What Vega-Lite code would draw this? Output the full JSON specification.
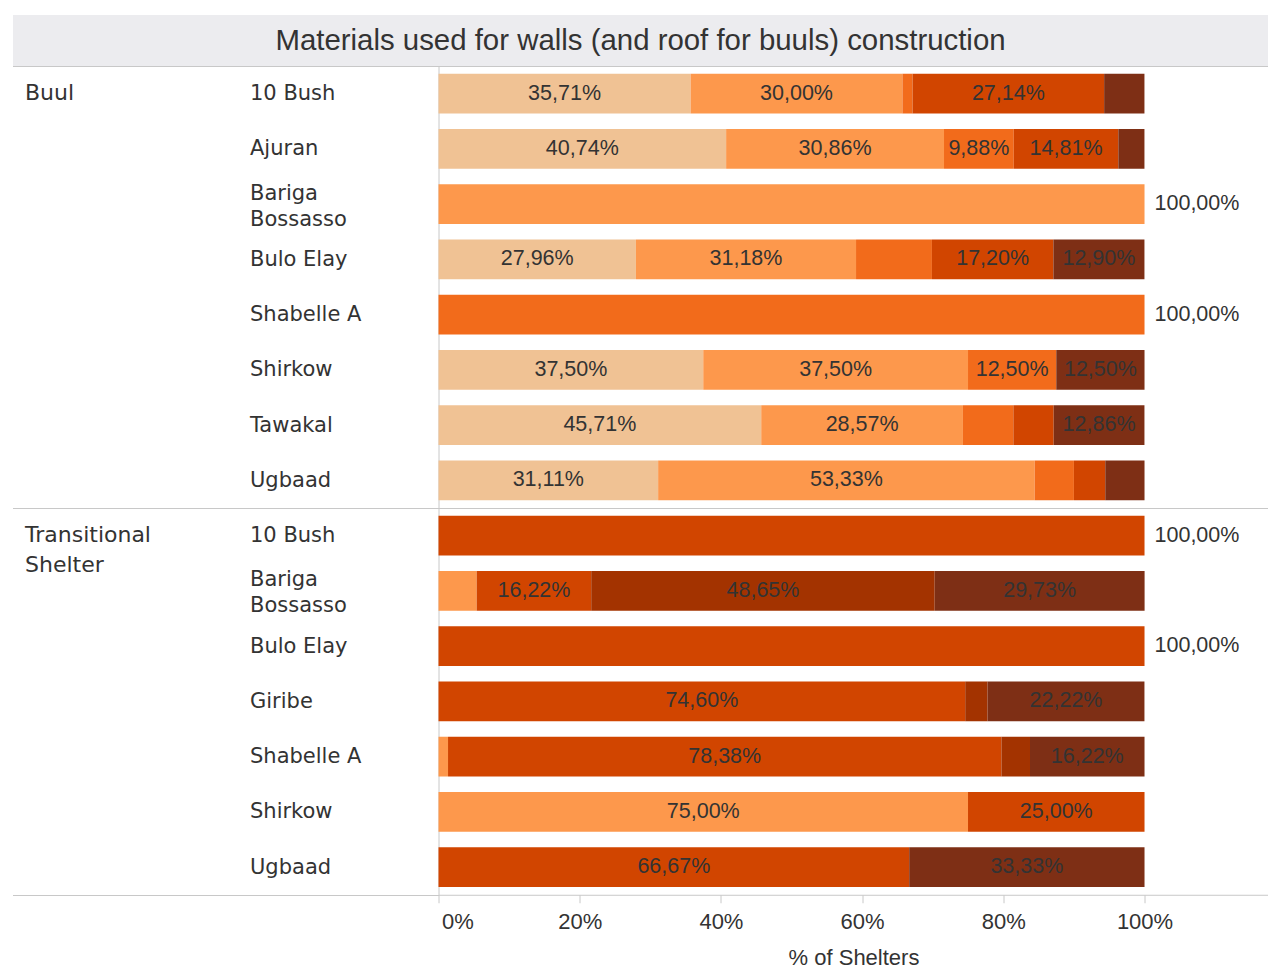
{
  "$schema": "https://vega.github.io/schema/vega-lite/v6.json",
  "padding": {"left": -13.5, "top": 14, "right": 0, "bottom": 0},
  "background": "white",
  "config": {
    "locale": {"number": {"decimal": ",", "thousands": ".", "grouping": [3], "currency": ["", " €"]}},
    "view": {"stroke": "#c8c8c8", "strokeWidth": 1}
  },
  "datasets": {
    "titles": [{"title": "Materials used for walls (and roof for buuls) construction"}],
    "shelters": [
      {"group": "Buul", "camp": "10 Bush", "material": "Material 1", "pct": 0.3571},
      {"group": "Buul", "camp": "10 Bush", "material": "Material 2", "pct": 0.3000},
      {"group": "Buul", "camp": "10 Bush", "material": "Material 3", "pct": 0.0143},
      {"group": "Buul", "camp": "10 Bush", "material": "Material 4", "pct": 0.2714},
      {"group": "Buul", "camp": "10 Bush", "material": "Material 6", "pct": 0.0571},
      {"group": "Buul", "camp": "Ajuran", "material": "Material 1", "pct": 0.4074},
      {"group": "Buul", "camp": "Ajuran", "material": "Material 2", "pct": 0.3086},
      {"group": "Buul", "camp": "Ajuran", "material": "Material 3", "pct": 0.0988},
      {"group": "Buul", "camp": "Ajuran", "material": "Material 4", "pct": 0.1481},
      {"group": "Buul", "camp": "Ajuran", "material": "Material 6", "pct": 0.0370},
      {"group": "Buul", "camp": "Bariga Bossasso", "material": "Material 2", "pct": 1.0},
      {"group": "Buul", "camp": "Bulo Elay", "material": "Material 1", "pct": 0.2796},
      {"group": "Buul", "camp": "Bulo Elay", "material": "Material 2", "pct": 0.3118},
      {"group": "Buul", "camp": "Bulo Elay", "material": "Material 3", "pct": 0.1075},
      {"group": "Buul", "camp": "Bulo Elay", "material": "Material 4", "pct": 0.1720},
      {"group": "Buul", "camp": "Bulo Elay", "material": "Material 6", "pct": 0.1290},
      {"group": "Buul", "camp": "Shabelle A", "material": "Material 3", "pct": 1.0},
      {"group": "Buul", "camp": "Shirkow", "material": "Material 1", "pct": 0.375},
      {"group": "Buul", "camp": "Shirkow", "material": "Material 2", "pct": 0.375},
      {"group": "Buul", "camp": "Shirkow", "material": "Material 3", "pct": 0.125},
      {"group": "Buul", "camp": "Shirkow", "material": "Material 6", "pct": 0.125},
      {"group": "Buul", "camp": "Tawakal", "material": "Material 1", "pct": 0.4571},
      {"group": "Buul", "camp": "Tawakal", "material": "Material 2", "pct": 0.2857},
      {"group": "Buul", "camp": "Tawakal", "material": "Material 3", "pct": 0.0714},
      {"group": "Buul", "camp": "Tawakal", "material": "Material 4", "pct": 0.0571},
      {"group": "Buul", "camp": "Tawakal", "material": "Material 6", "pct": 0.1286},
      {"group": "Buul", "camp": "Ugbaad", "material": "Material 1", "pct": 0.3111},
      {"group": "Buul", "camp": "Ugbaad", "material": "Material 2", "pct": 0.5333},
      {"group": "Buul", "camp": "Ugbaad", "material": "Material 3", "pct": 0.0556},
      {"group": "Buul", "camp": "Ugbaad", "material": "Material 4", "pct": 0.0444},
      {"group": "Buul", "camp": "Ugbaad", "material": "Material 6", "pct": 0.0556},
      {"group": "Transitional Shelter", "camp": "10 Bush", "material": "Material 4", "pct": 1.0},
      {"group": "Transitional Shelter", "camp": "Bariga Bossasso", "material": "Material 2", "pct": 0.0541},
      {"group": "Transitional Shelter", "camp": "Bariga Bossasso", "material": "Material 4", "pct": 0.1622},
      {"group": "Transitional Shelter", "camp": "Bariga Bossasso", "material": "Material 5", "pct": 0.4865},
      {"group": "Transitional Shelter", "camp": "Bariga Bossasso", "material": "Material 6", "pct": 0.2973},
      {"group": "Transitional Shelter", "camp": "Bulo Elay", "material": "Material 4", "pct": 1.0},
      {"group": "Transitional Shelter", "camp": "Giribe", "material": "Material 4", "pct": 0.7460},
      {"group": "Transitional Shelter", "camp": "Giribe", "material": "Material 5", "pct": 0.0317},
      {"group": "Transitional Shelter", "camp": "Giribe", "material": "Material 6", "pct": 0.2222},
      {"group": "Transitional Shelter", "camp": "Shabelle A", "material": "Material 2", "pct": 0.0135},
      {"group": "Transitional Shelter", "camp": "Shabelle A", "material": "Material 4", "pct": 0.7838},
      {"group": "Transitional Shelter", "camp": "Shabelle A", "material": "Material 5", "pct": 0.0405},
      {"group": "Transitional Shelter", "camp": "Shabelle A", "material": "Material 6", "pct": 0.1622},
      {"group": "Transitional Shelter", "camp": "Shirkow", "material": "Material 2", "pct": 0.75},
      {"group": "Transitional Shelter", "camp": "Shirkow", "material": "Material 4", "pct": 0.25},
      {"group": "Transitional Shelter", "camp": "Ugbaad", "material": "Material 4", "pct": 0.6667},
      {"group": "Transitional Shelter", "camp": "Ugbaad", "material": "Material 6", "pct": 0.3333}
    ]
  },
  "vconcat": [
    {
      "width": 830,
      "height": 51,
      "view": {"fill": "#ececef", "stroke": null},
      "data": {"name": "titles"},
      "mark": {"type": "text", "font": "Liberation Sans", "fontSize": 29.4, "color": "#333333", "align": "center", "baseline": "middle", "dx": -213},
      "encoding": {
        "y": {"field": "title", "type": "nominal", "scale": {"paddingInner": 0, "paddingOuter": 0},
          "axis": {"title": null, "labels": false, "domain": false, "grid": false, "ticks": true, "tickBand": "center",
                   "tickSize": 426, "tickWidth": 51, "tickColor": "#ececef", "tickCap": "butt"}},
        "text": {"field": "title", "type": "nominal"}
      }
    },
    {
      "width": 830,
      "height": {"step": 55.25},
      "data": {"name": "shelters"},
      "transform": [
        {"filter": "datum.group == 'Buul'"},
        {"stack": "pct", "groupby": ["camp"], "sort": [{"field": "material", "order": "ascending"}], "as": ["x0", "x1"]},
        {"calculate": "(datum.x0 + datum.x1) / 2", "as": "xm"}
      ],
      "encoding": {
        "y": {
          "field": "camp", "type": "nominal", "sort": "ascending",
          "scale": {"paddingInner": 0, "paddingOuter": 0},
          "axis": {
            "title": "Buul",
            "titleAngle": 0, "titleAlign": "left", "titleBaseline": "line-top", "titleX": -414, "titleY": 12,
            "titleFont": "DejaVu Sans", "titleFontSize": 22, "titleFontWeight": "normal", "titleColor": "#333333", "titleLineHeight": 30,
            "labelFont": "DejaVu Sans", "labelFontSize": 21, "labelColor": "#333333", "labelAlign": "left", "labelBaseline": "middle",
            "labelPadding": -237, "labelLimit": 0, "labelOverlap": false, "labelLineHeight": 26,
            "labelOffset": {"condition": {"test": "datum.value == 'Bariga Bossasso'", "value": -11}, "value": 0},
            "labelExpr": "datum.label == 'Bariga Bossasso' ? ['Bariga', 'Bossasso'] : datum.label",
            "domain": false, "grid": false,
            "ticks": true, "tickBand": "extent", "tickSize": 426, "tickColor": "#c8c8c8", "tickWidth": 1,
            "tickOpacity": {"condition": {"test": "abs(datum.index) == 1", "value": 1}, "value": 0}
          }
        }
      },
      "layer": [
        {
          "mark": {"type": "bar", "height": {"band": 0.72}},
          "encoding": {
            "x": {"field": "x0", "type": "quantitative", "scale": {"domain": [0, 1.1756], "nice": false, "zero": false}, "axis": null},
            "x2": {"field": "x1"},
            "color": {"field": "material", "type": "nominal", "legend": null,
              "scale": {"domain": ["Material 1", "Material 2", "Material 3", "Material 4", "Material 5", "Material 6"],
                        "range": ["#f0c294", "#fd984c", "#f26b1b", "#d14500", "#a33300", "#7e2f15"]}}
          }
        },
        {
          "transform": [{"filter": "datum.pct < 0.999 && datum.pct >= 0.098 && datum.pct != 0.1075"}],
          "mark": {"type": "text", "font": "Liberation Sans", "fontSize": 21.5, "color": "#333333", "align": "center", "baseline": "middle"},
          "encoding": {
            "x": {"field": "xm", "type": "quantitative", "scale": {"domain": [0, 1.1756], "nice": false, "zero": false}, "axis": null},
            "text": {"field": "pct", "type": "quantitative", "format": ".2%"}
          }
        },
        {
          "transform": [{"filter": "datum.pct >= 0.999"}],
          "mark": {"type": "text", "font": "Liberation Sans", "fontSize": 21.5, "color": "#333333", "align": "left", "baseline": "middle", "dx": 10},
          "encoding": {
            "x": {"field": "x1", "type": "quantitative", "scale": {"domain": [0, 1.1756], "nice": false, "zero": false}, "axis": null},
            "text": {"field": "pct", "type": "quantitative", "format": ".2%"}
          }
        }
      ]
    },
    {
      "width": 830,
      "height": {"step": 55.25},
      "data": {"name": "shelters"},
      "transform": [
        {"filter": "datum.group == 'Transitional Shelter'"},
        {"stack": "pct", "groupby": ["camp"], "sort": [{"field": "material", "order": "ascending"}], "as": ["x0", "x1"]},
        {"calculate": "(datum.x0 + datum.x1) / 2", "as": "xm"}
      ],
      "encoding": {
        "y": {
          "field": "camp", "type": "nominal", "sort": "ascending",
          "scale": {"paddingInner": 0, "paddingOuter": 0},
          "axis": {
            "title": ["Transitional", "Shelter"],
            "titleAngle": 0, "titleAlign": "left", "titleBaseline": "line-top", "titleX": -414, "titleY": 12,
            "titleFont": "DejaVu Sans", "titleFontSize": 22, "titleFontWeight": "normal", "titleColor": "#333333", "titleLineHeight": 30,
            "labelFont": "DejaVu Sans", "labelFontSize": 21, "labelColor": "#333333", "labelAlign": "left", "labelBaseline": "middle",
            "labelPadding": -237, "labelLimit": 0, "labelOverlap": false, "labelLineHeight": 26,
            "labelOffset": {"condition": {"test": "datum.value == 'Bariga Bossasso'", "value": -11}, "value": 0},
            "labelExpr": "datum.label == 'Bariga Bossasso' ? ['Bariga', 'Bossasso'] : datum.label",
            "domain": false, "grid": false,
            "ticks": true, "tickBand": "extent", "tickSize": 426, "tickColor": "#c8c8c8", "tickWidth": 1,
            "tickOpacity": {"condition": {"test": "abs(datum.index) == 1", "value": 1}, "value": 0}
          }
        }
      },
      "layer": [
        {
          "mark": {"type": "bar", "height": {"band": 0.72}},
          "encoding": {
            "x": {"field": "x0", "type": "quantitative", "scale": {"domain": [0, 1.1756], "nice": false, "zero": false},
              "axis": {"values": [0, 0.2, 0.4, 0.6, 0.8, 1], "format": ".0%", "labelFlush": true, "labelFlushOffset": -3,
                "labelFont": "Liberation Sans", "labelFontSize": 22, "labelColor": "#333333", "labelPadding": 9,
                "domain": false, "grid": false, "tickColor": "#c8c8c8", "tickSize": 8,
                "title": "% of Shelters", "titleFont": "Liberation Sans", "titleFontSize": 22, "titleFontWeight": "normal", "titleColor": "#333333", "titlePadding": 15}},
            "x2": {"field": "x1"},
            "color": {"field": "material", "type": "nominal", "legend": null,
              "scale": {"domain": ["Material 1", "Material 2", "Material 3", "Material 4", "Material 5", "Material 6"],
                        "range": ["#f0c294", "#fd984c", "#f26b1b", "#d14500", "#a33300", "#7e2f15"]}}
          }
        },
        {
          "transform": [{"filter": "datum.pct < 0.999 && datum.pct >= 0.098 && datum.pct != 0.1075"}],
          "mark": {"type": "text", "font": "Liberation Sans", "fontSize": 21.5, "color": "#333333", "align": "center", "baseline": "middle"},
          "encoding": {
            "x": {"field": "xm", "type": "quantitative", "scale": {"domain": [0, 1.1756], "nice": false, "zero": false}},
            "text": {"field": "pct", "type": "quantitative", "format": ".2%"}
          }
        },
        {
          "transform": [{"filter": "datum.pct >= 0.999"}],
          "mark": {"type": "text", "font": "Liberation Sans", "fontSize": 21.5, "color": "#333333", "align": "left", "baseline": "middle", "dx": 10},
          "encoding": {
            "x": {"field": "x1", "type": "quantitative", "scale": {"domain": [0, 1.1756], "nice": false, "zero": false}},
            "text": {"field": "pct", "type": "quantitative", "format": ".2%"}
          }
        }
      ]
    }
  ],
  "bounds": "flush",
  "spacing": 0
}
